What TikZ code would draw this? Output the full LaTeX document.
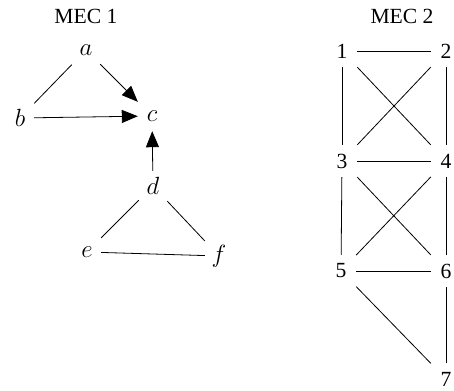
\documentclass[tikz,border=0pt]{standalone}
\usepackage{fontspec}
\setmainfont{Liberation Serif}
\usetikzlibrary{arrows.meta}
\begin{document}
\begin{tikzpicture}[x=1pt,y=-1pt,
  vtx/.style={rectangle,inner sep=0pt,minimum width=28pt,minimum height=30pt,font=\fontsize{24}{28}\selectfont},
  num/.style={rectangle,inner sep=0pt,minimum width=30pt,minimum height=32pt,font=\fontsize{21.6}{26}\selectfont},
  ttl/.style={inner sep=0pt,font=\fontsize{21.6}{26}\selectfont},
  edge/.style={line width=0.8pt},
  arr/.style={line width=0.8pt,-{Triangle[length=16pt,width=13pt]}}]
\useasboundingbox (0,0) rectangle (454,390);
\node[ttl] (t1) at (86,16) {MEC 1};
\node[ttl] (t2) at (402,16) {MEC 2};
% MEC 1
\node[vtx] (a) at (86,50) {$a$};
\node[vtx] (b) at (20,118) {$b$};
\node[vtx] (c) at (152,116) {$c$};
\node[vtx] (d) at (153,186) {$d$};
\node[vtx] (e) at (87,252) {$e$};
\node[vtx] (f) at (219,256) {$f$};
\draw[edge] (a) -- (b);
\draw[arr] (a) -- (c);
\draw[arr] (b) -- (c);
\draw[arr] (d) -- (c);
\draw[edge] (d) -- (e);
\draw[edge] (d) -- (f);
\draw[edge] (e) -- (f);
% MEC 2
\node[num] (n1) at (342,51) {1};
\node[num] (n2) at (446,51) {2};
\node[num] (n3) at (342,161) {3};
\node[num] (n4) at (446,161) {4};
\node[num] (n5) at (341,271) {5};
\node[num] (n6) at (446,271) {6};
\node[num] (n7) at (446,379) {7};
\draw[edge] (n1) -- (n2);
\draw[edge] (n1) -- (n3);
\draw[edge] (n1) -- (n4);
\draw[edge] (n2) -- (n3);
\draw[edge] (n2) -- (n4);
\draw[edge] (n3) -- (n4);
\draw[edge] (n3) -- (n5);
\draw[edge] (n3) -- (n6);
\draw[edge] (n4) -- (n5);
\draw[edge] (n4) -- (n6);
\draw[edge] (n5) -- (n6);
\draw[edge] (n5) -- (n7);
\draw[edge] (n6) -- (n7);
\end{tikzpicture}
\end{document}
